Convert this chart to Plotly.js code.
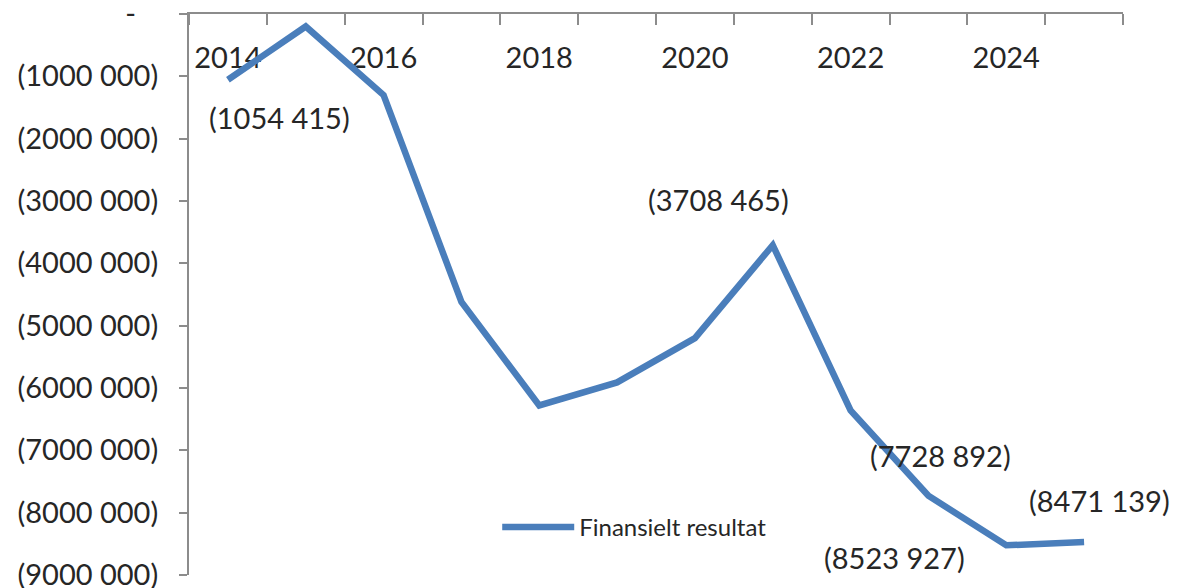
<!DOCTYPE html>
<html>
<head>
<meta charset="utf-8">
<script src="https://cdn.plot.ly/plotly-3.0.1.min.js"></script>
<style>
  html, body { margin: 0; padding: 0; background: #fff; }
  #Graph { width: 1177px; height: 588px; }
</style>
</head>
<body>
<div id="Graph"></div>
<script>
var years = [2014, 2015, 2016, 2017, 2018, 2019, 2020, 2021, 2022, 2023, 2024, 2025];
var result = [-1054415, -200000, -1300000, -4620000, -6280000, -5910000, -5200000, -3708465, -6360000, -7728892, -8523927, -8471139];

// which points carry a data label, and where Excel had them dragged to
var labelYears = [2014, 2021, 2023, 2024, 2025];
var labelShiftX = [52, -54, 12, -112, 15];
var labelShiftY = [-38, 46, 40, -12, 42];

var yTicks = [0, -1000000, -2000000, -3000000, -4000000, -5000000, -6000000, -7000000, -8000000, -9000000];
var xTicks = [2014, 2016, 2018, 2020, 2022, 2024];

var FONT = 'Lato, "Open Sans", sans-serif';
var AXIS = '#8c8c8c';
var XRANGE = [2013.5, 2025.5];

// Excel style: (1054 415), only the last group split off
const fmt = v => {
  if (v === 0) return '-\u00a0\u00a0\u00a0';
  var a = Math.abs(v);
  var hi = Math.floor(a / 1000);
  var lo = String(a % 1000).padStart(3, '0');
  return '(' + hi + ' ' + lo + ')';
};

var trace = {
  x: years,
  y: result,
  xaxis: 'x2',
  type: 'scatter',
  mode: 'lines',
  name: 'Finansielt resultat',
  line: { color: '#4a7ebb', width: 6.5 }
};

// empty, only so the base x axis (line + tick marks) gets drawn
var axisHolder = {
  x: [], y: [],
  type: 'scatter',
  mode: 'lines',
  showlegend: false,
  hoverinfo: 'skip'
};

var notes = labelYears.map((yr, i) => {
  var v = result[years.indexOf(yr)];
  return {
    x: yr, y: v, xref: 'x2', yref: 'y',
    text: fmt(v),
    showarrow: false,
    xshift: labelShiftX[i],
    yshift: labelShiftY[i],
    font: { family: FONT, size: 29, color: '#262626' }
  };
});

var layout = {
  width: 1177,
  height: 588,
  margin: { l: 189, r: 54, t: 14, b: 13 },
  paper_bgcolor: '#fff',
  plot_bgcolor: '#fff',
  font: { family: FONT, color: '#262626' },
  showlegend: true,
  legend: {
    x: 0.33, y: 0.085, xanchor: 'left', yanchor: 'middle',
    bgcolor: 'rgba(0,0,0,0)',
    itemwidth: 72,
    font: { family: FONT, size: 24, color: '#262626' }
  },
  // the axis line along the zero value, with the category tick marks
  xaxis: {
    type: 'linear',
    range: XRANGE,
    side: 'top',
    showline: true, linecolor: AXIS, linewidth: 2,
    showgrid: false, zeroline: false,
    showticklabels: false,
    ticks: '',
    minor: { ticks: 'inside', tick0: 2013.5, dtick: 1, ticklen: 11, tickwidth: 2, tickcolor: AXIS, showgrid: false }
  },
  // year labels hang just under that line
  xaxis2: {
    type: 'linear',
    range: XRANGE,
    overlaying: 'x',
    anchor: 'free',
    position: 1,
    side: 'bottom',
    showline: false, showgrid: false, zeroline: false,
    tickmode: 'array', tickvals: xTicks, ticktext: xTicks.map(String),
    ticks: '',
    ticklabelstandoff: 24,
    tickfont: { family: FONT, size: 29, color: '#262626' },
    layer: 'below traces'
  },
  yaxis: {
    range: [-9000000, 0],
    showline: true, linecolor: AXIS, linewidth: 2,
    showgrid: false, zeroline: false,
    tickmode: 'array', tickvals: yTicks, ticktext: yTicks.map(fmt),
    ticks: 'outside', ticklen: 8, tickwidth: 2, tickcolor: AXIS,
    ticklabelstandoff: 15,
    ticklabeloverflow: 'allow',
    tickfont: { family: FONT, size: 29, color: '#262626' }
  },
  annotations: notes
};

Plotly.newPlot('Graph', [axisHolder, trace], layout, { displayModeBar: false, staticPlot: true });
</script>
</body>
</html>
